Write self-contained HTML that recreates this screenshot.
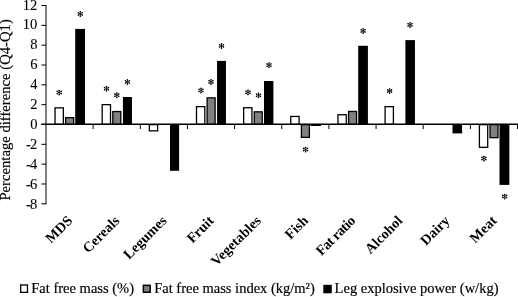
<!DOCTYPE html>
<html><head><meta charset="utf-8"><style>
html,body{margin:0;padding:0;background:#fff;}
body{width:518px;height:297px;overflow:hidden;}
svg{display:block;will-change:transform;}
.t{font-family:"Liberation Serif",serif;font-size:14.5px;fill:#000;stroke:#000;stroke-width:0.18px;}
.y{stroke-width:0.08px;}
.b{font-family:"Liberation Serif",serif;font-size:14.2px;font-weight:bold;fill:#000;}
</style></head><body>
<svg width="518" height="297" viewBox="0 0 518 297">
<line x1="46.0" y1="5" x2="46.0" y2="204.3" stroke="#000" stroke-width="1"/>
<line x1="41.4" y1="5.52" x2="46.0" y2="5.52" stroke="#000" stroke-width="1"/>
<text x="37.2" y="9.55" text-anchor="end" class="t y">12</text>
<line x1="41.4" y1="25.35" x2="46.0" y2="25.35" stroke="#000" stroke-width="1"/>
<text x="37.2" y="29.47" text-anchor="end" class="t y">10</text>
<line x1="41.4" y1="45.18" x2="46.0" y2="45.18" stroke="#000" stroke-width="1"/>
<text x="37.6" y="49.39" text-anchor="end" class="t y">8</text>
<line x1="41.4" y1="65.01" x2="46.0" y2="65.01" stroke="#000" stroke-width="1"/>
<text x="37.6" y="69.31" text-anchor="end" class="t y">6</text>
<line x1="41.4" y1="84.84" x2="46.0" y2="84.84" stroke="#000" stroke-width="1"/>
<text x="37.6" y="89.23" text-anchor="end" class="t y">4</text>
<line x1="41.4" y1="104.67" x2="46.0" y2="104.67" stroke="#000" stroke-width="1"/>
<text x="37.6" y="109.15" text-anchor="end" class="t y">2</text>
<line x1="41.4" y1="124.50" x2="46.0" y2="124.50" stroke="#000" stroke-width="1"/>
<text x="37.6" y="129.07" text-anchor="end" class="t y">0</text>
<line x1="41.4" y1="144.33" x2="46.0" y2="144.33" stroke="#000" stroke-width="1"/>
<text x="37.2" y="148.99" text-anchor="end" class="t y"><tspan style="letter-spacing:-0.8px">-</tspan>2</text>
<line x1="41.4" y1="164.16" x2="46.0" y2="164.16" stroke="#000" stroke-width="1"/>
<text x="37.2" y="168.91" text-anchor="end" class="t y"><tspan style="letter-spacing:-0.8px">-</tspan>4</text>
<line x1="41.4" y1="183.99" x2="46.0" y2="183.99" stroke="#000" stroke-width="1"/>
<text x="37.2" y="188.83" text-anchor="end" class="t y"><tspan style="letter-spacing:-0.8px">-</tspan>6</text>
<line x1="41.4" y1="203.82" x2="46.0" y2="203.82" stroke="#000" stroke-width="1"/>
<text x="37.2" y="208.75" text-anchor="end" class="t y"><tspan style="letter-spacing:-0.8px">-</tspan>8</text>
<rect x="55.05" y="107.85" width="8.30" height="16.50" fill="#fff" stroke="#000" stroke-width="1.3"/>
<rect x="65.65" y="117.65" width="8.00" height="6.70" fill="#808080" stroke="#000" stroke-width="1.3"/>
<rect x="75.20" y="28.90" width="9.80" height="96.10" fill="#000"/>
<rect x="102.20" y="104.65" width="8.30" height="19.70" fill="#fff" stroke="#000" stroke-width="1.3"/>
<rect x="112.80" y="111.55" width="8.00" height="12.80" fill="#808080" stroke="#000" stroke-width="1.3"/>
<rect x="122.95" y="97.00" width="9.00" height="28.00" fill="#000"/>
<rect x="149.35" y="124.65" width="8.30" height="6.20" fill="#fff" stroke="#000" stroke-width="1.3"/>
<rect x="170.00" y="124.00" width="9.10" height="46.80" fill="#000"/>
<rect x="196.50" y="106.65" width="8.30" height="17.70" fill="#fff" stroke="#000" stroke-width="1.3"/>
<rect x="207.10" y="97.85" width="8.00" height="26.50" fill="#808080" stroke="#000" stroke-width="1.3"/>
<rect x="217.05" y="60.90" width="8.90" height="64.10" fill="#000"/>
<rect x="243.65" y="107.75" width="8.30" height="16.60" fill="#fff" stroke="#000" stroke-width="1.3"/>
<rect x="254.25" y="111.85" width="8.00" height="12.50" fill="#808080" stroke="#000" stroke-width="1.3"/>
<rect x="264.00" y="81.00" width="9.40" height="44.00" fill="#000"/>
<rect x="290.80" y="116.45" width="8.30" height="7.90" fill="#fff" stroke="#000" stroke-width="1.3"/>
<rect x="301.40" y="124.65" width="8.00" height="12.70" fill="#808080" stroke="#000" stroke-width="1.3"/>
<rect x="310.65" y="124.00" width="10.30" height="2.00" fill="#000"/>
<rect x="337.95" y="114.75" width="8.30" height="9.60" fill="#fff" stroke="#000" stroke-width="1.3"/>
<rect x="348.55" y="111.45" width="8.00" height="12.90" fill="#808080" stroke="#000" stroke-width="1.3"/>
<rect x="358.20" y="45.80" width="9.70" height="79.20" fill="#000"/>
<rect x="385.10" y="106.65" width="8.30" height="17.70" fill="#fff" stroke="#000" stroke-width="1.3"/>
<rect x="405.40" y="40.10" width="9.55" height="84.90" fill="#000"/>
<rect x="452.50" y="124.00" width="9.60" height="9.40" fill="#000"/>
<rect x="479.40" y="124.65" width="8.30" height="22.70" fill="#fff" stroke="#000" stroke-width="1.3"/>
<rect x="490.00" y="124.65" width="8.00" height="13.00" fill="#808080" stroke="#000" stroke-width="1.3"/>
<rect x="499.50" y="124.00" width="9.85" height="60.90" fill="#000"/>
<line x1="41.4" y1="124.25" x2="518" y2="124.25" stroke="#000" stroke-width="1.3"/>
<line x1="93.15" y1="124.5" x2="93.15" y2="129.0" stroke="#000" stroke-width="1"/>
<line x1="140.30" y1="124.5" x2="140.30" y2="129.0" stroke="#000" stroke-width="1"/>
<line x1="187.45" y1="124.5" x2="187.45" y2="129.0" stroke="#000" stroke-width="1"/>
<line x1="234.60" y1="124.5" x2="234.60" y2="129.0" stroke="#000" stroke-width="1"/>
<line x1="281.75" y1="124.5" x2="281.75" y2="129.0" stroke="#000" stroke-width="1"/>
<line x1="328.90" y1="124.5" x2="328.90" y2="129.0" stroke="#000" stroke-width="1"/>
<line x1="376.05" y1="124.5" x2="376.05" y2="129.0" stroke="#000" stroke-width="1"/>
<line x1="423.20" y1="124.5" x2="423.20" y2="129.0" stroke="#000" stroke-width="1"/>
<line x1="470.35" y1="124.5" x2="470.35" y2="129.0" stroke="#000" stroke-width="1"/>
<line x1="517.50" y1="124.5" x2="517.50" y2="129.0" stroke="#000" stroke-width="1"/>
<g transform="translate(59.20,92.60)"><path d="M0,-2.2V2.2M-2,-1.25L2,1.05M-2,1.05L2,-1.25" stroke="#000" stroke-width="0.75" stroke-linecap="round" fill="none"/><g fill="#000"><circle cx="0" cy="-2.15" r="0.78"/><circle cx="0" cy="2.15" r="0.78"/><circle cx="-1.95" cy="-1.2" r="0.78"/><circle cx="1.95" cy="1.0" r="0.78"/><circle cx="-1.95" cy="1.0" r="0.78"/><circle cx="1.95" cy="-1.2" r="0.78"/></g></g>
<g transform="translate(80.30,14.00)"><path d="M0,-2.2V2.2M-2,-1.25L2,1.05M-2,1.05L2,-1.25" stroke="#000" stroke-width="0.75" stroke-linecap="round" fill="none"/><g fill="#000"><circle cx="0" cy="-2.15" r="0.78"/><circle cx="0" cy="2.15" r="0.78"/><circle cx="-1.95" cy="-1.2" r="0.78"/><circle cx="1.95" cy="1.0" r="0.78"/><circle cx="-1.95" cy="1.0" r="0.78"/><circle cx="1.95" cy="-1.2" r="0.78"/></g></g>
<g transform="translate(106.50,88.80)"><path d="M0,-2.2V2.2M-2,-1.25L2,1.05M-2,1.05L2,-1.25" stroke="#000" stroke-width="0.75" stroke-linecap="round" fill="none"/><g fill="#000"><circle cx="0" cy="-2.15" r="0.78"/><circle cx="0" cy="2.15" r="0.78"/><circle cx="-1.95" cy="-1.2" r="0.78"/><circle cx="1.95" cy="1.0" r="0.78"/><circle cx="-1.95" cy="1.0" r="0.78"/><circle cx="1.95" cy="-1.2" r="0.78"/></g></g>
<g transform="translate(116.80,95.30)"><path d="M0,-2.2V2.2M-2,-1.25L2,1.05M-2,1.05L2,-1.25" stroke="#000" stroke-width="0.75" stroke-linecap="round" fill="none"/><g fill="#000"><circle cx="0" cy="-2.15" r="0.78"/><circle cx="0" cy="2.15" r="0.78"/><circle cx="-1.95" cy="-1.2" r="0.78"/><circle cx="1.95" cy="1.0" r="0.78"/><circle cx="-1.95" cy="1.0" r="0.78"/><circle cx="1.95" cy="-1.2" r="0.78"/></g></g>
<g transform="translate(127.40,82.00)"><path d="M0,-2.2V2.2M-2,-1.25L2,1.05M-2,1.05L2,-1.25" stroke="#000" stroke-width="0.75" stroke-linecap="round" fill="none"/><g fill="#000"><circle cx="0" cy="-2.15" r="0.78"/><circle cx="0" cy="2.15" r="0.78"/><circle cx="-1.95" cy="-1.2" r="0.78"/><circle cx="1.95" cy="1.0" r="0.78"/><circle cx="-1.95" cy="1.0" r="0.78"/><circle cx="1.95" cy="-1.2" r="0.78"/></g></g>
<g transform="translate(201.00,90.50)"><path d="M0,-2.2V2.2M-2,-1.25L2,1.05M-2,1.05L2,-1.25" stroke="#000" stroke-width="0.75" stroke-linecap="round" fill="none"/><g fill="#000"><circle cx="0" cy="-2.15" r="0.78"/><circle cx="0" cy="2.15" r="0.78"/><circle cx="-1.95" cy="-1.2" r="0.78"/><circle cx="1.95" cy="1.0" r="0.78"/><circle cx="-1.95" cy="1.0" r="0.78"/><circle cx="1.95" cy="-1.2" r="0.78"/></g></g>
<g transform="translate(211.00,82.00)"><path d="M0,-2.2V2.2M-2,-1.25L2,1.05M-2,1.05L2,-1.25" stroke="#000" stroke-width="0.75" stroke-linecap="round" fill="none"/><g fill="#000"><circle cx="0" cy="-2.15" r="0.78"/><circle cx="0" cy="2.15" r="0.78"/><circle cx="-1.95" cy="-1.2" r="0.78"/><circle cx="1.95" cy="1.0" r="0.78"/><circle cx="-1.95" cy="1.0" r="0.78"/><circle cx="1.95" cy="-1.2" r="0.78"/></g></g>
<g transform="translate(221.50,46.00)"><path d="M0,-2.2V2.2M-2,-1.25L2,1.05M-2,1.05L2,-1.25" stroke="#000" stroke-width="0.75" stroke-linecap="round" fill="none"/><g fill="#000"><circle cx="0" cy="-2.15" r="0.78"/><circle cx="0" cy="2.15" r="0.78"/><circle cx="-1.95" cy="-1.2" r="0.78"/><circle cx="1.95" cy="1.0" r="0.78"/><circle cx="-1.95" cy="1.0" r="0.78"/><circle cx="1.95" cy="-1.2" r="0.78"/></g></g>
<g transform="translate(248.00,92.40)"><path d="M0,-2.2V2.2M-2,-1.25L2,1.05M-2,1.05L2,-1.25" stroke="#000" stroke-width="0.75" stroke-linecap="round" fill="none"/><g fill="#000"><circle cx="0" cy="-2.15" r="0.78"/><circle cx="0" cy="2.15" r="0.78"/><circle cx="-1.95" cy="-1.2" r="0.78"/><circle cx="1.95" cy="1.0" r="0.78"/><circle cx="-1.95" cy="1.0" r="0.78"/><circle cx="1.95" cy="-1.2" r="0.78"/></g></g>
<g transform="translate(258.50,95.40)"><path d="M0,-2.2V2.2M-2,-1.25L2,1.05M-2,1.05L2,-1.25" stroke="#000" stroke-width="0.75" stroke-linecap="round" fill="none"/><g fill="#000"><circle cx="0" cy="-2.15" r="0.78"/><circle cx="0" cy="2.15" r="0.78"/><circle cx="-1.95" cy="-1.2" r="0.78"/><circle cx="1.95" cy="1.0" r="0.78"/><circle cx="-1.95" cy="1.0" r="0.78"/><circle cx="1.95" cy="-1.2" r="0.78"/></g></g>
<g transform="translate(269.00,65.20)"><path d="M0,-2.2V2.2M-2,-1.25L2,1.05M-2,1.05L2,-1.25" stroke="#000" stroke-width="0.75" stroke-linecap="round" fill="none"/><g fill="#000"><circle cx="0" cy="-2.15" r="0.78"/><circle cx="0" cy="2.15" r="0.78"/><circle cx="-1.95" cy="-1.2" r="0.78"/><circle cx="1.95" cy="1.0" r="0.78"/><circle cx="-1.95" cy="1.0" r="0.78"/><circle cx="1.95" cy="-1.2" r="0.78"/></g></g>
<g transform="translate(305.60,149.60)"><path d="M0,-2.2V2.2M-2,-1.25L2,1.05M-2,1.05L2,-1.25" stroke="#000" stroke-width="0.75" stroke-linecap="round" fill="none"/><g fill="#000"><circle cx="0" cy="-2.15" r="0.78"/><circle cx="0" cy="2.15" r="0.78"/><circle cx="-1.95" cy="-1.2" r="0.78"/><circle cx="1.95" cy="1.0" r="0.78"/><circle cx="-1.95" cy="1.0" r="0.78"/><circle cx="1.95" cy="-1.2" r="0.78"/></g></g>
<g transform="translate(363.10,31.00)"><path d="M0,-2.2V2.2M-2,-1.25L2,1.05M-2,1.05L2,-1.25" stroke="#000" stroke-width="0.75" stroke-linecap="round" fill="none"/><g fill="#000"><circle cx="0" cy="-2.15" r="0.78"/><circle cx="0" cy="2.15" r="0.78"/><circle cx="-1.95" cy="-1.2" r="0.78"/><circle cx="1.95" cy="1.0" r="0.78"/><circle cx="-1.95" cy="1.0" r="0.78"/><circle cx="1.95" cy="-1.2" r="0.78"/></g></g>
<g transform="translate(389.60,91.10)"><path d="M0,-2.2V2.2M-2,-1.25L2,1.05M-2,1.05L2,-1.25" stroke="#000" stroke-width="0.75" stroke-linecap="round" fill="none"/><g fill="#000"><circle cx="0" cy="-2.15" r="0.78"/><circle cx="0" cy="2.15" r="0.78"/><circle cx="-1.95" cy="-1.2" r="0.78"/><circle cx="1.95" cy="1.0" r="0.78"/><circle cx="-1.95" cy="1.0" r="0.78"/><circle cx="1.95" cy="-1.2" r="0.78"/></g></g>
<g transform="translate(410.00,25.00)"><path d="M0,-2.2V2.2M-2,-1.25L2,1.05M-2,1.05L2,-1.25" stroke="#000" stroke-width="0.75" stroke-linecap="round" fill="none"/><g fill="#000"><circle cx="0" cy="-2.15" r="0.78"/><circle cx="0" cy="2.15" r="0.78"/><circle cx="-1.95" cy="-1.2" r="0.78"/><circle cx="1.95" cy="1.0" r="0.78"/><circle cx="-1.95" cy="1.0" r="0.78"/><circle cx="1.95" cy="-1.2" r="0.78"/></g></g>
<g transform="translate(483.90,158.60)"><path d="M0,-2.2V2.2M-2,-1.25L2,1.05M-2,1.05L2,-1.25" stroke="#000" stroke-width="0.75" stroke-linecap="round" fill="none"/><g fill="#000"><circle cx="0" cy="-2.15" r="0.78"/><circle cx="0" cy="2.15" r="0.78"/><circle cx="-1.95" cy="-1.2" r="0.78"/><circle cx="1.95" cy="1.0" r="0.78"/><circle cx="-1.95" cy="1.0" r="0.78"/><circle cx="1.95" cy="-1.2" r="0.78"/></g></g>
<g transform="translate(504.70,196.60)"><path d="M0,-2.2V2.2M-2,-1.25L2,1.05M-2,1.05L2,-1.25" stroke="#000" stroke-width="0.75" stroke-linecap="round" fill="none"/><g fill="#000"><circle cx="0" cy="-2.15" r="0.78"/><circle cx="0" cy="2.15" r="0.78"/><circle cx="-1.95" cy="-1.2" r="0.78"/><circle cx="1.95" cy="1.0" r="0.78"/><circle cx="-1.95" cy="1.0" r="0.78"/><circle cx="1.95" cy="-1.2" r="0.78"/></g></g>
<text transform="translate(73.28,221.5) rotate(-45)" text-anchor="end" class="b">MDS</text>
<text transform="translate(120.42,221.5) rotate(-45)" text-anchor="end" class="b">Cereals</text>
<text transform="translate(167.57,221.5) rotate(-45)" text-anchor="end" class="b">Legumes</text>
<text transform="translate(214.72,221.5) rotate(-45)" text-anchor="end" class="b">Fruit</text>
<text transform="translate(261.87,221.5) rotate(-45)" text-anchor="end" class="b">Vegetables</text>
<text transform="translate(309.02,221.5) rotate(-45)" text-anchor="end" class="b">Fish</text>
<text transform="translate(356.17,221.5) rotate(-45)" text-anchor="end" class="b" textLength="49.2" lengthAdjust="spacing">Fat ratio</text>
<text transform="translate(403.32,221.5) rotate(-45)" text-anchor="end" class="b">Alcohol</text>
<text transform="translate(450.47,221.5) rotate(-45)" text-anchor="end" class="b">Dairy</text>
<text transform="translate(497.62,221.5) rotate(-45)" text-anchor="end" class="b">Meat</text>
<text transform="translate(10,200.6) rotate(-90)" class="t" style="font-size:14.68px">Percentage difference (Q4-Q1)</text>
<rect x="20.65" y="284.95" width="6.8" height="7.4" fill="#fff" stroke="#000" stroke-width="1.3"/>
<text x="31.3" y="293.3" class="t">Fat free mass (%)</text>
<rect x="143.35" y="285.35" width="6.8" height="6.9" fill="#808080" stroke="#000" stroke-width="1.5"/>
<text x="154.2" y="293.3" class="t">Fat free mass index (kg/m²)</text>
<rect x="323.3" y="284.8" width="8.5" height="8.5" fill="#000"/>
<text x="334.6" y="293.3" class="t">Leg explosive power (w/kg)</text>
</svg>
</body></html>
